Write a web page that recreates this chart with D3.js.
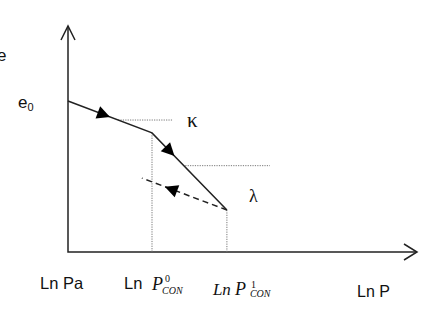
<!DOCTYPE html>
<html><head><meta charset="utf-8">
<script src="https://cdn.jsdelivr.net/npm/d3@7/dist/d3.min.js"></script>
<style>html,body{margin:0;padding:0;background:#fff;}svg{display:block;}</style>
</head><body>
<svg id="c" width="428" height="324"></svg>
<script>
// ---- data (abstract units: x = ln P, y = void ratio e) ----
const loadingPath = [[0, 6.68], [2.4, 5.27], [4.54, 1.86]];   // solid: kappa then lambda
const unloadingPath = [[4.54, 1.86], [2.11, 3.27]];           // dashed unloading
const kappaGuide = [[1.43, 5.84], [3.0, 5.84]];
const lambdaGuide = [[3.35, 3.82], [5.77, 3.82]];
const dropLines = [[[2.4, 5.27], [2.4, 0]], [[4.54, 1.86], [4.54, 0]]];
const arrowMarks = [ // [path, segment index, fraction along segment]
  ["load", 0, 0.5], ["load", 1, 0.3], ["unload", 0, 0.73]
];
const xTickLabels = ["Ln Pa", "Ln", "P", "0", "CON", "1"];
const axisLabels = { x: "Ln P", y: "e" };
const slopeLabels = ["κ", "λ"];

const svg = d3.select("#c");
const x = d3.scaleLinear().domain([0, 10]).range([68, 418]);
const y = d3.scaleLinear().domain([0, 10]).range([252, 26]);
const line = d3.line().x(d => x(d[0])).y(d => y(d[1]));

// axes
const x0 = x(0), y0 = y(0), xEnd = 417, yTop = 26;
svg.append("path").attr("d", `M${x0},${yTop}V${y0}H${xEnd}`)
  .attr("fill", "none").attr("stroke", "#222").attr("stroke-width", 1.5);
svg.append("path").attr("d", `M${x0 - 7},${yTop + 14}L${x0},${yTop}L${x0 + 7},${yTop + 14}`)
  .attr("fill", "none").attr("stroke", "#222").attr("stroke-width", 1.5);
svg.append("path").attr("d", `M${xEnd - 13},${y0 - 8}L${xEnd},${y0}L${xEnd - 13},${y0 + 8}`)
  .attr("fill", "none").attr("stroke", "#222").attr("stroke-width", 1.5);

// dotted guides
const dotted = g => g.attr("fill", "none").attr("stroke", "#777").attr("stroke-width", 1).attr("stroke-dasharray", "1.2,1.2");
svg.append("path").attr("d", line(kappaGuide)).call(dotted);
svg.append("path").attr("d", line(lambdaGuide)).call(dotted);
dropLines.forEach(dl => svg.append("path").attr("d", line(dl)).call(dotted));

// curves
svg.append("path").attr("d", line(loadingPath)).attr("fill", "none").attr("stroke", "#222").attr("stroke-width", 1.5);
svg.append("path").attr("d", line(unloadingPath)).attr("fill", "none").attr("stroke", "#222").attr("stroke-width", 1.5).attr("stroke-dasharray", "6,4");

// arrowheads
const paths = { load: loadingPath, unload: unloadingPath };
arrowMarks.forEach(([p, i, t]) => {
  const a = paths[p][i], b = paths[p][i + 1];
  const ax = x(a[0]), ay = y(a[1]), bx = x(b[0]), by = y(b[1]);
  const tx = ax + (bx - ax) * t, ty = ay + (by - ay) * t;
  const ang = Math.atan2(by - ay, bx - ax) * 180 / Math.PI;
  svg.append("path").attr("d", "M0,0L-13,-6.5L-13,6.5Z")
    .attr("transform", `translate(${tx},${ty}) rotate(${ang})`).attr("fill", "#000");
});

// labels
const sans = "Arial, 'Liberation Sans', sans-serif";
const serif = "'Times New Roman', 'Liberation Serif', serif";
const txt = (s, px, py, size, fam, style) => svg.append("text").attr("x", px).attr("y", py)
  .attr("font-size", size).attr("font-family", fam).attr("font-style", style || "normal").attr("fill", "#111").text(s);

txt(axisLabels.y, -3, 61, 17, sans);
const e0 = svg.append("text").attr("x", 18).attr("y", 108).attr("font-family", sans).attr("fill", "#111");
e0.append("tspan").attr("font-size", 17).text("e");
e0.append("tspan").attr("font-size", 11).attr("dy", 3).text("0");
txt(slopeLabels[0], 187, 127, 21, serif);
txt(slopeLabels[1], 249, 202, 18, serif);

txt(xTickLabels[0], x(0) - 28, 289, 16.5, sans);

// Ln P^0_CON  (one text, with tspans for sup/sub)
const p0 = x(2.4);
const t0 = svg.append("text").attr("y", 289).attr("fill", "#111").attr("font-family", serif);
t0.append("tspan").attr("x", p0 - 28).attr("font-family", sans).attr("font-size", 16.5).text(xTickLabels[1]);
t0.append("tspan").attr("x", p0).attr("dy", 1).attr("font-size", 18).attr("font-style", "italic").text(xTickLabels[2]);
t0.append("tspan").attr("x", p0 + 13).attr("dy", -8).attr("font-size", 10).text(xTickLabels[3]);
t0.append("tspan").attr("x", p0 + 10).attr("dy", 12).attr("font-size", 10).attr("font-style", "italic").text(xTickLabels[4]);

// Ln P^1_CON
const p1 = x(4.54);
const t1 = svg.append("text").attr("y", 295).attr("fill", "#111").attr("font-family", serif).attr("font-style", "italic");
t1.append("tspan").attr("x", p1 - 14).attr("font-size", 17).text(xTickLabels[1]);
t1.append("tspan").attr("x", p1 + 8).attr("font-size", 18).text(xTickLabels[2]);
t1.append("tspan").attr("x", p1 + 24).attr("dy", -7).attr("font-size", 10).attr("font-style", "normal").text(xTickLabels[5]);
t1.append("tspan").attr("x", p1 + 23).attr("dy", 9).attr("font-size", 10).text(xTickLabels[4]);

txt(axisLabels.x, 357, 297, 16, sans);
</script>
</body></html>
